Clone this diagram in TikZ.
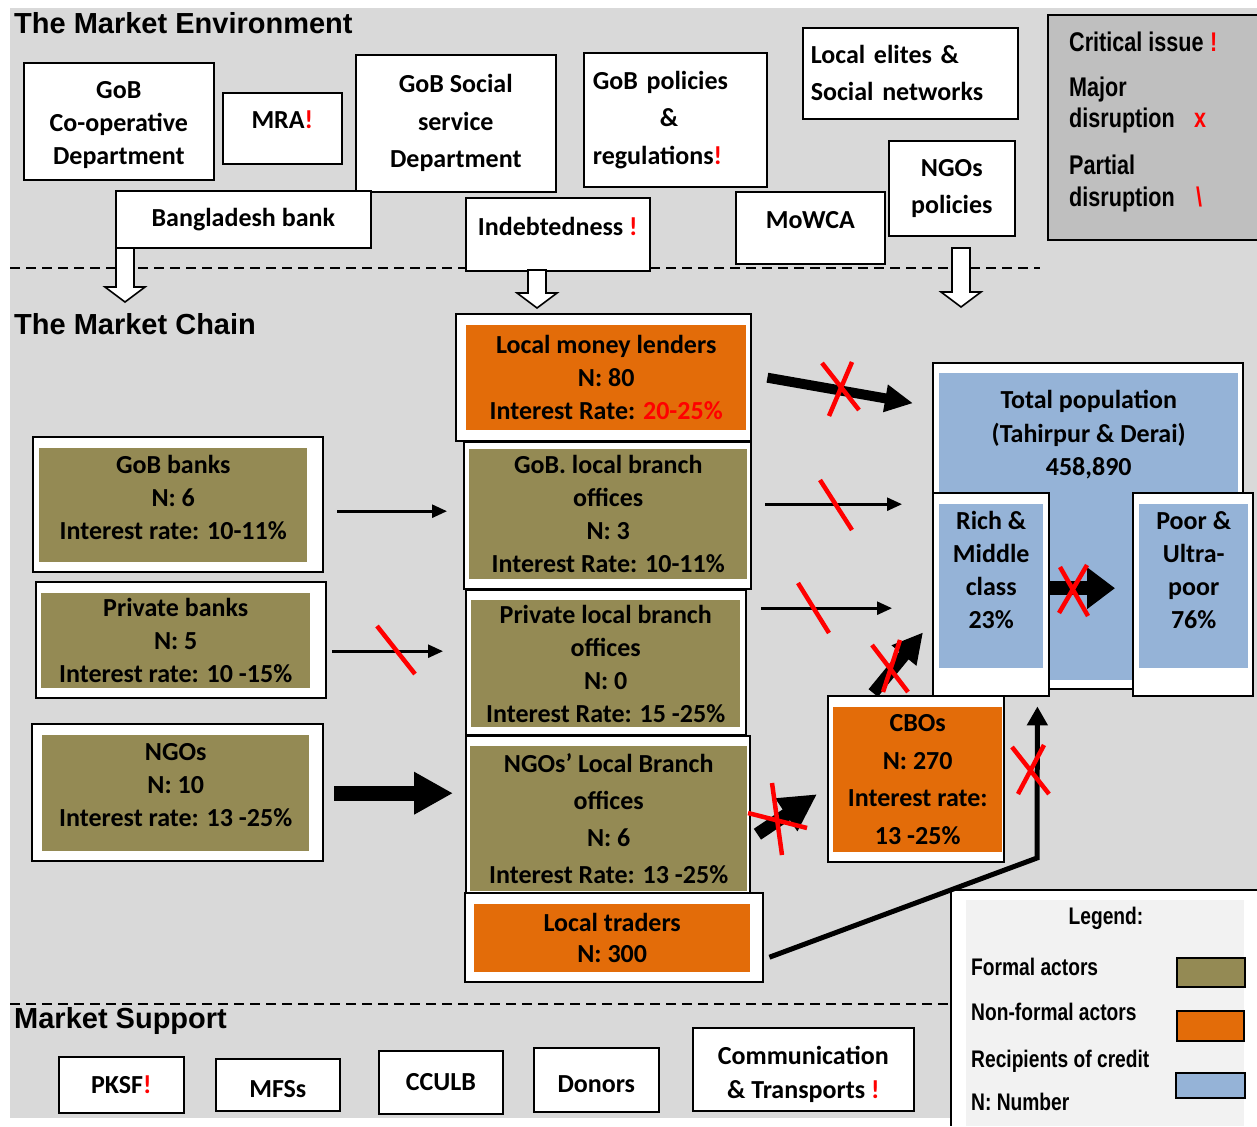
\documentclass[tikz,border=0pt]{standalone}
\usepackage{fontspec}
\setmainfont{Carlito}
\newfontfamily\headfont{Liberation Sans}
\newfontfamily\narrowfont{Liberation Sans}[FakeStretch=0.8]
\usetikzlibrary{arrows.meta}
\definecolor{bggray}{HTML}{D9D9D9}
\definecolor{critgray}{HTML}{BFBFBF}
\definecolor{leggray}{HTML}{F2F2F2}
\definecolor{formalcol}{HTML}{948A54}
\definecolor{informcol}{HTML}{E36C09}
\definecolor{recipcol}{HTML}{95B3D7}
\newcommand\issue{\textcolor{red}{!}}
\newcommand{\hollowdown}[3]{\draw[hollow] (#1-9,#2) -- (#1+9,#2) -- (#1+9,#3-15) -- (#1+20,#3-15) -- (#1,#3) -- (#1-20,#3-15) -- (#1-9,#3-15) -- cycle;}
\tikzset{
  frame/.style={draw=black, fill=white, line width=1.6},
  bfont/.style={font=\fontsize{26}{#1}\selectfont\bfseries},
  bfont/.default=33,
  topbox/.style={frame, anchor=north west, inner sep=0, align=center, bfont},
  actor/.style={fill=#1, anchor=north west, inner sep=0, align=center, bfont},
  heading/.style={anchor=base west, inner sep=0, font=\headfont\fontsize{29}{34}\selectfont\bfseries},
  legtext/.style={anchor=base west, inner sep=0, font=\narrowfont\fontsize{#1}{#1}\selectfont\bfseries},
  swatch/.style={draw=black, line width=1.8, anchor=north west, inner sep=0, fill=#1},
  hollow/.style={draw=black, fill=white, line width=1.6, line join=miter},
  thinarr/.style={line width=2.6, -{Triangle[length=15pt,width=13pt]}},
  fatarr/.style n args={3}{line width=#1, -{Triangle[length=#2,width=#3]}},
  redmark/.style={red, line width=4.5},
}
\begin{document}
\begin{tikzpicture}[x=1pt,y=-1pt]
\useasboundingbox (0,0) rectangle (1257,1126);
\fill[bggray] (10,8) rectangle (1257,1118);
\fill[critgray] (1048,15) rectangle (1257,240);
\draw[line width=1.6] (1257,15) -- (1048,15) -- (1048,240) -- (1257,240);
\fill[white] (951,890) rectangle (1257,1126);
\draw[line width=1.6] (1257,890) -- (951,890) -- (951,1126);
\fill[leggray] (966,900) rectangle (1244,1126);
\draw[line width=2, dash pattern=on 10pt off 6pt] (10,268) -- (1040,268);
\draw[line width=2, dash pattern=on 10pt off 6pt] (10,1004) -- (948,1004);

\node[heading] (envhead) at (14,34) {The Market Environment};
\node[heading] (chainhead) at (14,334) {The Market Chain};
\node[heading] (supphead) at (14,1028) {Market Support};

% market environment
\node[topbox, minimum width=190, minimum height=117, text height=100.4, text depth=14.6] (coop) at (23,62) {GoB\\Co-operative\\Department};
\node[topbox, minimum width=119, minimum height=71, text depth=17] (mra) at (222,92) {MRA\issue};
\node[topbox, bfont=37.5, minimum width=200, minimum height=137] (social) at (355,54) {GoB Social\\service\\Department};
\node[topbox, bfont=37.5, align=left, text width=165, minimum width=183, minimum height=134] (policy) at (583,52) {GoB policies\\\hspace*{67pt}\&\\regulations\issue};
\node[topbox, bfont=37, align=left, text width=199, minimum width=215, minimum height=91] (elites) at (802,27) {Local elites \&\\Social networks};
\node[topbox, minimum width=255, minimum height=57] (bb) at (115,190) {Bangladesh bank};
\node[topbox, minimum width=184, minimum height=73, text depth=15] (indebt) at (465,197) {Indebtedness \issue};
\node[topbox, minimum width=149, minimum height=72, text depth=16] (mowca) at (735,191) {MoWCA};
\node[topbox, bfont=37, minimum width=126, minimum height=95] (ngopol) at (888,140) {NGOs\\policies};

\node[legtext=27] (critlab) at (1069,52) {Critical issue};
\node[legtext=27, text=red] (critsign) at (1210,52) {!};
\node[legtext=27] (majlab) at (1069,97) {Major};
\node[legtext=27] (majlab2) at (1069,128) {disruption};
\node[legtext=27, anchor=base, text=red] (majsign) at (1200,128) {x};
\node[legtext=27] (partlab) at (1069,175) {Partial};
\node[legtext=27] (partlab2) at (1069,207) {disruption};
\node[legtext=27, anchor=base, text=red] (partsign) at (1199,207) {\textbackslash};

\hollowdown{125}{248}{302}
\hollowdown{537}{270}{308}
\hollowdown{961}{248}{307}

% market chain
\draw[frame] (456,314) rectangle (751,441);
\draw[frame] (464,442) rectangle (751,589);
\draw[frame] (466,590) rectangle (746,735);
\draw[frame] (466,736) rectangle (750,893);
\draw[frame] (465,893) rectangle (763,982);
\draw[frame] (33,437) rectangle (323,572);
\draw[frame] (36,582) rectangle (326,698);
\draw[frame] (32,724) rectangle (323,861);
\draw[frame] (828,696) rectangle (1004,862);
\draw[frame] (933,363) rectangle (1243,689);

\node[actor=informcol, minimum width=280, minimum height=105] (lml) at (466,325) {Local money lenders\\N: 80\\Interest Rate: \textcolor{red}{20-25\%}};
\node[actor=formalcol, minimum width=278, minimum height=130] (goblocal) at (469,449) {GoB. local branch\\offices\\N: 3\\Interest Rate: 10-11\%};
\node[actor=formalcol, minimum width=269, minimum height=127] (privlocal) at (471,600) {Private local branch\\offices\\N: 0\\Interest Rate: 15 -25\%};
\node[actor=formalcol, bfont=37, minimum width=277, minimum height=145] (ngolocal) at (470,746) {NGOs’ Local Branch\\offices\\N: 6\\Interest Rate: 13 -25\%};
\node[actor=informcol, bfont=31, minimum width=276, minimum height=68] (traders) at (474,904) {Local traders\\N: 300};
\node[actor=formalcol, minimum width=268, minimum height=114, text height=90.4, text depth=21.6] (gobbanks) at (39,448) {GoB banks\\N: 6\\Interest rate: 10-11\%};
\node[actor=formalcol, minimum width=269, minimum height=95] (privbanks) at (41,593) {Private banks\\N: 5\\Interest rate: 10 -15\%};
\node[actor=formalcol, minimum width=267, minimum height=116, text height=90.4, text depth=23.6] (ngos) at (42,735) {NGOs\\N: 10\\Interest rate: 13 -25\%};
\node[actor=informcol, bfont=37.5, minimum width=169, minimum height=145] (cbos) at (833,707) {CBOs\\N: 270\\Interest rate:\\13 -25\%};
\node[actor=recipcol, bfont=33.5, minimum width=299, minimum height=307, text height=101.4, text depth=203.6] (totpop) at (939,373) {Total population\\(Tahirpur \& Derai)\\458,890};

\draw[frame] (933,493) rectangle (1049,696);
\draw[frame] (1133,493) rectangle (1253,696);
\node[actor=recipcol, minimum width=104, minimum height=164, text height=123.4, text depth=38.6] (rich) at (939,504) {Rich \&\\Middle\\class\\23\%};
\node[actor=recipcol, minimum width=109, minimum height=164, text height=123.4, text depth=38.6] (poor) at (1139,504) {Poor \&\\Ultra-\\poor\\76\%};

\draw[thinarr] ([shift={(30,6)}]gobbanks.east) -- ([shift={(-22,-3)}]goblocal.west);
\draw[thinarr] ([shift={(22,10.5)}]privbanks.east) -- ([shift={(-28,-12.5)}]privlocal.west);
\draw[fatarr={15}{39pt}{40pt}] ([xshift=25]ngos.east) -- ([shift={(-17,-25.5)}]ngolocal.west);
\draw[fatarr={10}{28pt}{26pt}] ([xshift=21]lml.east) -- ([shift={(-26,-123.5)}]totpop.west);
\draw[thinarr] ([shift={(18,-10)}]goblocal.east) -- ([shift={(-37,-22.5)}]totpop.west);
\draw[thinarr] ([shift={(21,-55.5)}]privlocal.east) -- ([shift={(-47,22)}]rich.west);
\draw[fatarr={13}{37pt}{37pt}] ([shift={(10,15.5)}]ngolocal.east) -- ([shift={(-16,14.5)}]cbos.west);
\draw[fatarr={12}{30pt}{30pt}] ([shift={(-44.5,-14)}]cbos.north) -- ([shift={(-16,-36)}]rich.south west);
\coordinate (kink) at (1037,858);
\draw[fatarr={5}{19pt}{20pt}] ([shift={(19,19)}]traders.east) -- (kink) -- ([shift={(-6,38)}]rich.south east);
\draw[fatarr={14}{28pt}{40pt}] ([shift={(6,2)}]rich.east) -- ([shift={(-24,2)}]poor.west);

\draw[redmark] (822,363) -- (859,410) (852,362) -- (829,416);
\draw[redmark] (820,480) -- (852,530);
\draw[redmark] (798,583) -- (829,633);
\draw[redmark] (377,626) -- (415,674);
\draw[redmark] (772,783) -- (782,855) (748,813) -- (807,828);
\draw[redmark] (872,645) -- (908,692) (900,640) -- (883,692);
\draw[redmark] (1012,747) -- (1049,794) (1044,745) -- (1018,794);
\draw[redmark] (1060,567) -- (1088,616) (1087,565) -- (1059,613);

% market support
\node[topbox, minimum width=125, minimum height=56] (pksf) at (58,1056) {PKSF\issue};
\node[topbox, minimum width=124, minimum height=52, text height=25] (mfs) at (215,1058) {MFSs};
\node[topbox, minimum width=124, minimum height=63] (cculb) at (378,1050) {CCULB};
\node[topbox, minimum width=125, minimum height=64, text height=25] (donors) at (533,1047) {Donors};
\node[topbox, bfont=34, minimum width=221, minimum height=83, text height=68.9, text depth=11.1] (comm) at (692,1027) {Communication\\\& Transports \issue};

% legend
\node[legtext=24, anchor=base] (leghead) at (1106,924) {Legend:};
\node[legtext=24] (formal) at (971,975) {Formal actors};
\node[legtext=24] (nonformal) at (971,1020) {Non-formal actors};
\node[legtext=24] (recip) at (971,1067) {Recipients of credit};
\node[legtext=24] (nnum) at (971,1110) {N: Number};
\node[swatch=formalcol, minimum width=68, minimum height=29] (swformal) at (1176,957) {};
\node[swatch=informcol, minimum width=67, minimum height=30] (swinform) at (1176,1010) {};
\node[swatch=recipcol, minimum width=69, minimum height=25] (swrecip) at (1175,1072) {};
\end{tikzpicture}
\end{document}
